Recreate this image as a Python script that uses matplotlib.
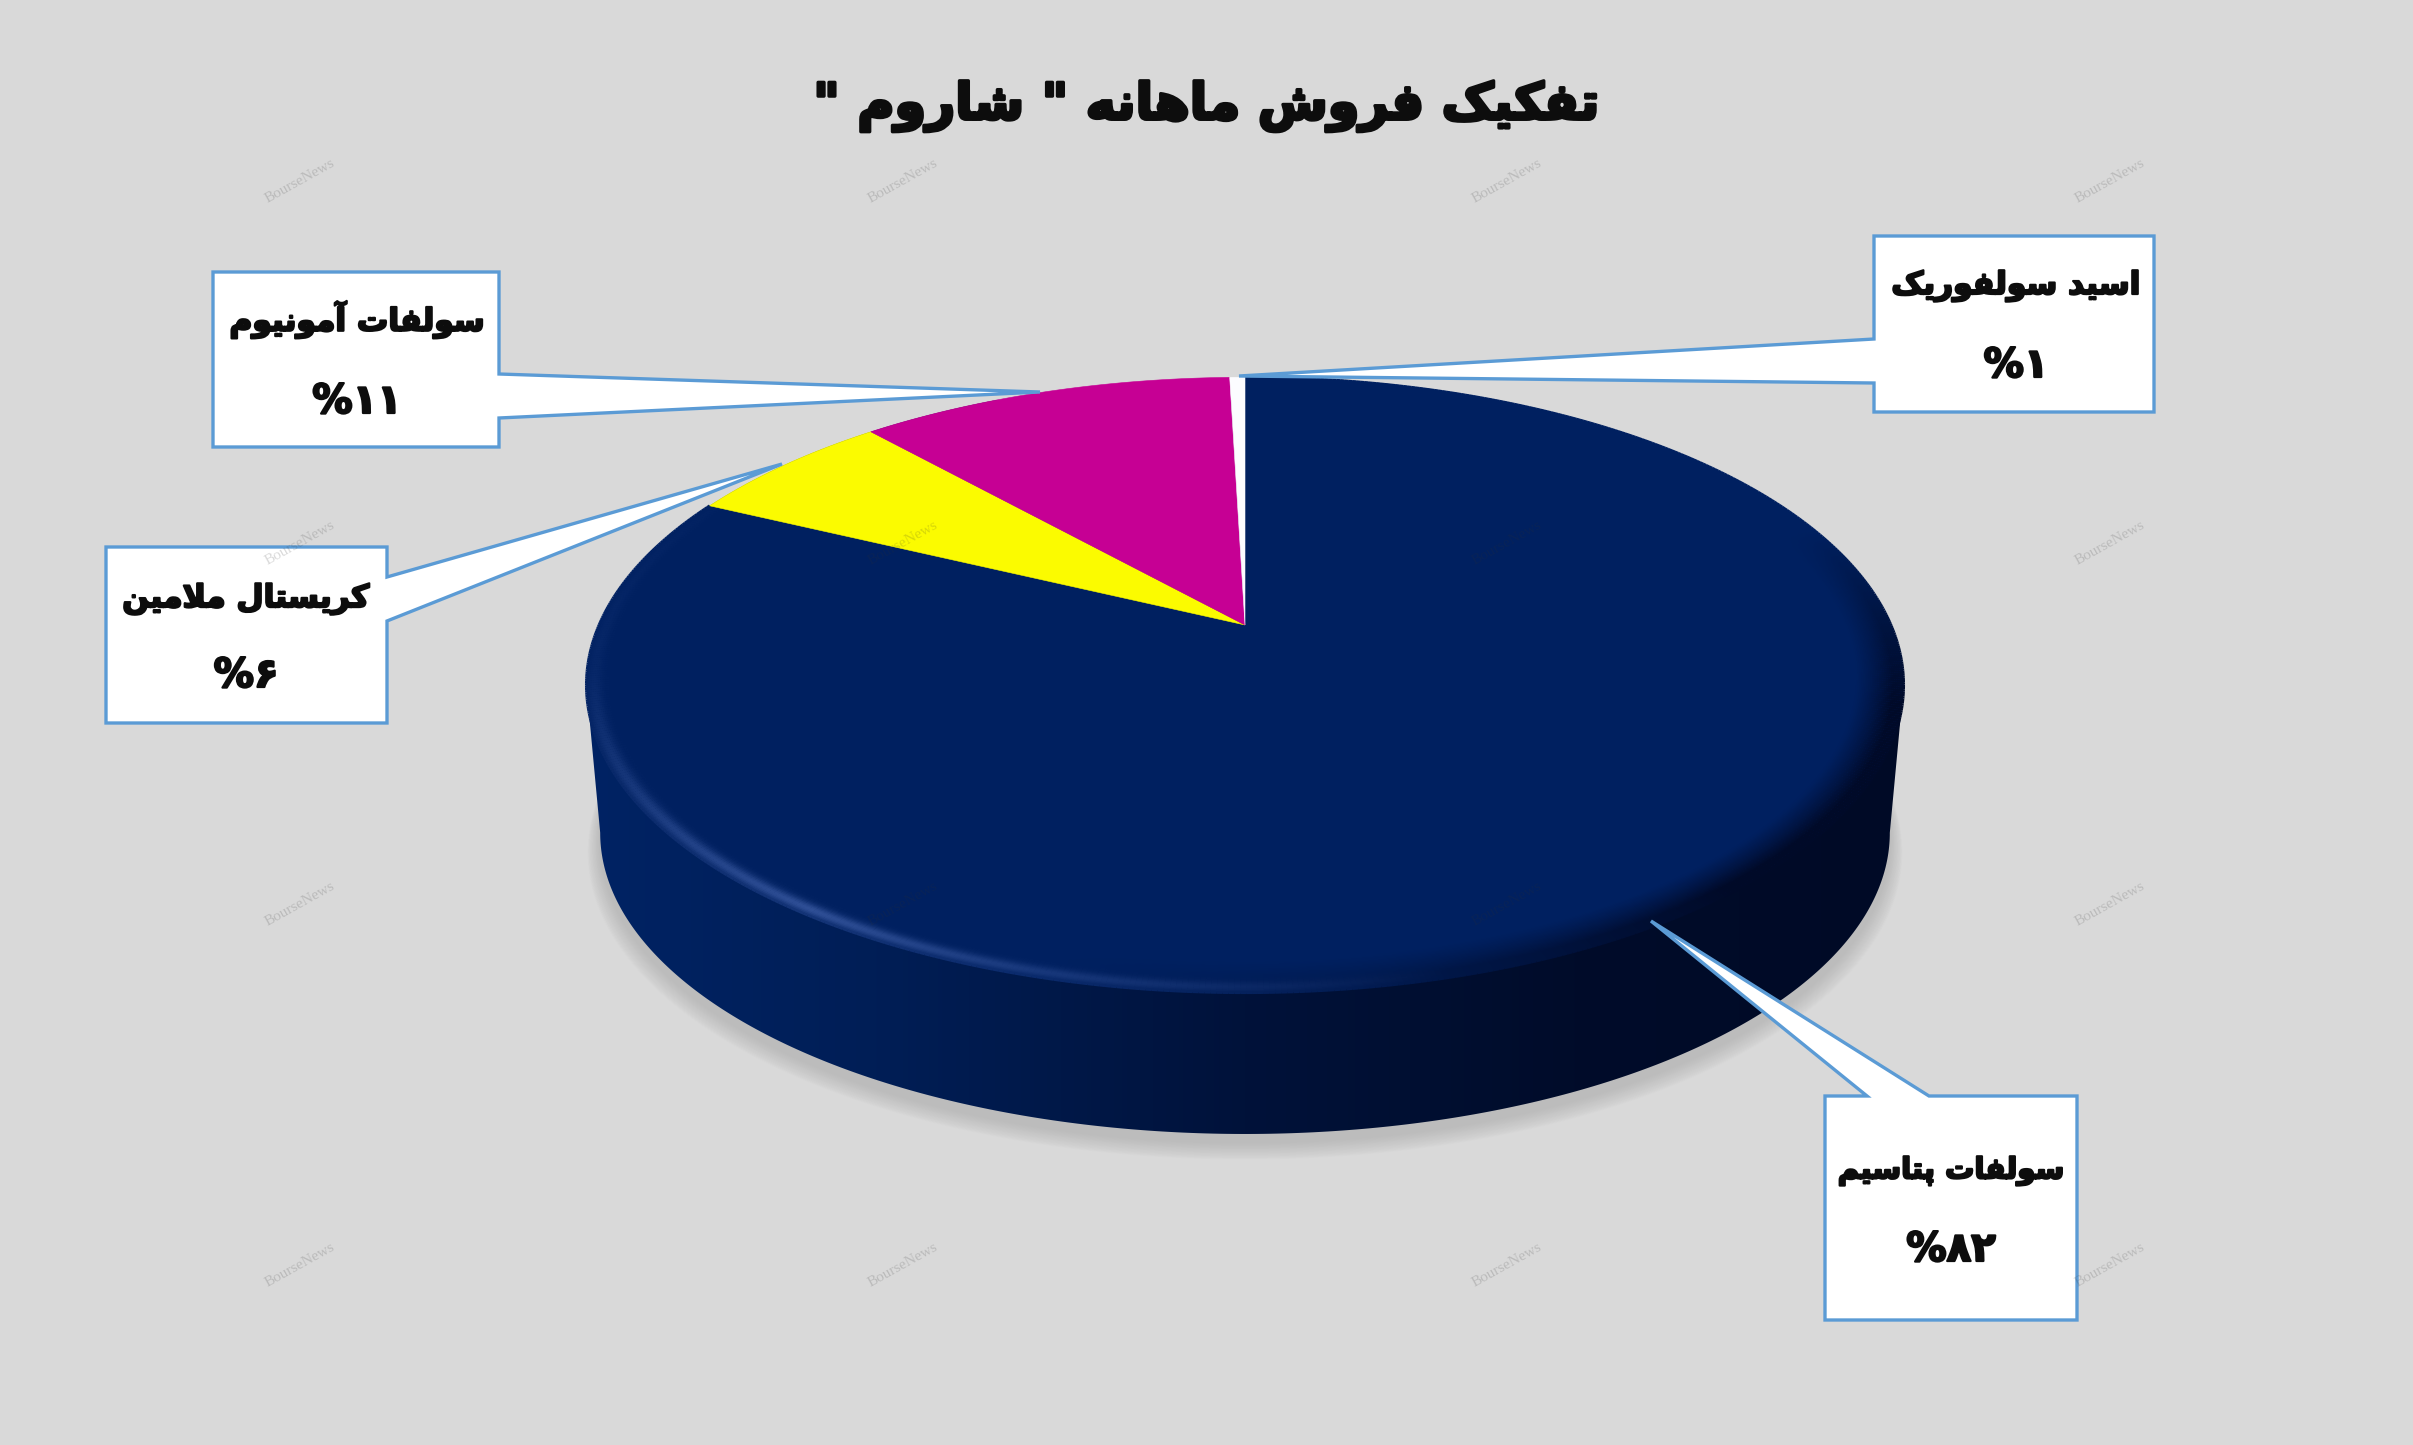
import numpy as np
import matplotlib
matplotlib.use("Agg")
import matplotlib.pyplot as plt
import matplotlib.patheffects as pe
from matplotlib.collections import LineCollection
from matplotlib.colors import to_rgb
from matplotlib.patches import Polygon

# values (the printed labels are rounded)
categories = ["سولفات پتاسیم", "کریستال ملامین", "سولفات آمونیوم", "اسید سولفوریک"]
shares = [82.2, 6.25, 11.1, 0.45]
percent_labels = ["%۸۲", "%۶", "%۱۱", "%۱"]
colors = ["#002060", "#fbfb00", "#c60094", "#fcfcff"]
title = 'تفکیک فروش ماهانه " شاروم "'

BG = "#d9d9d9"
EDGE = "#5b9bd5"
INK = "#0d0d0d"

# isolated, final, initial, medial
FORMS = {
    "ا": (0xFE8D, 0xFE8E), "آ": (0xFE81, 0xFE82), "د": (0xFEA9, 0xFEAA),
    "ر": (0xFEAD, 0xFEAE), "و": (0xFEED, 0xFEEE),
    "ت": (0xFE95, 0xFE96, 0xFE97, 0xFE98), "ف": (0xFED1, 0xFED2, 0xFED3, 0xFED4),
    "ک": (0xFB8E, 0xFB8F, 0xFB90, 0xFB91), "ی": (0xFBFC, 0xFBFD, 0xFBFE, 0xFBFF),
    "ش": (0xFEB5, 0xFEB6, 0xFEB7, 0xFEB8), "م": (0xFEE1, 0xFEE2, 0xFEE3, 0xFEE4),
    "ه": (0xFEE9, 0xFEEA, 0xFEEB, 0xFEEC), "ن": (0xFEE5, 0xFEE6, 0xFEE7, 0xFEE8),
    "س": (0xFEB1, 0xFEB2, 0xFEB3, 0xFEB4), "ل": (0xFEDD, 0xFEDE, 0xFEDF, 0xFEE0),
    "پ": (0xFB56, 0xFB57, 0xFB58, 0xFB59),
    "ﻻ": (0xFEFB, 0xFEFC),
}


def shape(text):
    # matplotlib has no arabic shaping, so pick the forms by hand and reverse
    text = text.replace("لا", "ﻻ")
    out = []
    for i, ch in enumerate(text):
        if ch not in FORMS:
            out.append(ch)
            continue
        prev = text[i - 1] if i > 0 else " "
        nxt = text[i + 1] if i + 1 < len(text) else " "
        joins_prev = prev in FORMS and len(FORMS[prev]) == 4
        joins_next = nxt in FORMS and len(FORMS[ch]) == 4
        if joins_prev and joins_next:
            k = 3
        elif joins_next:
            k = 2
        elif joins_prev:
            k = 1
        else:
            k = 0
        out.append(chr(FORMS[ch][k]))
    return "".join(out)[::-1]


# perspective of the disc, in image pixels
CX, CY, A, B, P = 1245, 625, 646, 296, 0.195
DROP, SHRINK = 149, 0.979


def project(deg, r=1.0, scale=1.0, dy=0.0):
    t = np.radians(deg)
    u, v = r * np.sin(t), r * np.cos(t)
    w = 1 + P * v
    return np.column_stack((CX + scale * A * u / w, CY + dy - scale * B * v / w))


def wedge(a0, a1):
    t = np.linspace(a0, a1, 200)
    return np.vstack(([[CX, CY]], project(t)))


def blend(c0, c1, a):
    return np.asarray(c0) * (1 - a)[..., None] + np.asarray(c1) * a[..., None]


fig = plt.figure(figsize=(24.13, 14.45), dpi=100, facecolor=BG)
ax = fig.add_axes([0, 0, 1, 1])
ax.set_xlim(0, 2413)
ax.set_ylim(1445, 0)
ax.axis("off")

# soft shadow under the disc
all_deg = np.linspace(0, 360, 400)
n_shadow = 24
for i in range(n_shadow):
    f = i / (n_shadow - 1)
    c = blend(to_rgb(BG), to_rgb("#bcbcbc"), np.array(f**0.8))
    pts = project(all_deg, scale=SHRINK * (1.0 + 0.02 * (1 - f)), dy=DROP + 9 + 10 * (1 - f))
    ax.add_patch(Polygon(pts, closed=True, fc=c, ec="none", zorder=1))

# side wall with horizontal gradient
left_ext = 180 + np.degrees(np.arccos(P))
right_ext = 180 - np.degrees(np.arccos(P))
front = project(np.linspace(left_ext, right_ext, 300), scale=SHRINK, dy=DROP)
back = project(np.linspace(right_ext, left_ext - 360, 400))
side = Polygon(np.vstack((front, back)), closed=True, transform=ax.transData, fc="none", ec="none")
ax.add_patch(side)
stops = np.array([0, 0.22, 0.5, 0.75, 1.0])
grad = np.column_stack([
    np.interp(np.linspace(0, 1, 512), stops, channel)
    for channel in ([0, 0, 0, 0, 0], [35, 30, 18, 12, 10], [100, 86, 58, 42, 38])
]) / 255
img = ax.imshow(grad[None, :, :], extent=(586, 1904, 1200, 400), aspect="auto", zorder=2)
img.set_clip_path(side)
ax.set_xlim(0, 2413)
ax.set_ylim(1445, 0)

# top face
edges = np.concatenate(([0], np.cumsum(shares))) * 3.6
ax.add_patch(Polygon(wedge(edges[0], edges[1]), closed=True, fc=colors[0], ec="none", zorder=3))

# bevel on the rim of the big slice
rim_deg = np.linspace(0, edges[1], 700)
mid = (rim_deg[:-1] + rim_deg[1:]) / 2
base = to_rgb(colors[0])
dark = to_rgb("#000a28")
light = to_rgb("#2f4f96")
dark_amp = np.interp(mid, [70, 105, 140, 172, 195], [0, 1, 1, 0.3, 0])
light_amp = np.interp(mid, [165, 195, 215, 240, 262, 295], [0, 0.5, 1, 0.5, 0.14, 0.04])
for r in np.linspace(0.93, 1.0, 28):
    seg_pts = project(rim_deg, r=r)
    segs = np.stack((seg_pts[:-1], seg_pts[1:]), axis=1)
    d = np.clip((r - 0.93) / 0.055, 0, 1) ** 1.2
    h = np.exp(-(((r - 0.989) / 0.012) ** 2))
    col = blend(base, dark, dark_amp * d)
    col = blend(col, light, light_amp * h)
    ax.add_collection(LineCollection(segs, colors=col, linewidths=2.0, zorder=4, capstyle="butt"))

for a0, a1, col in zip(edges[1:-1], edges[2:], colors[1:]):
    ax.add_patch(Polygon(wedge(a0, a1), closed=True, fc=col, ec=col, lw=0.4, zorder=5))

# callouts: box corners and pointer (two base points, tip)
callouts = [
    dict(box=(1825, 1096, 2077, 1320), side="top", base=(1867, 1929), tip=(1651, 921)),
    dict(box=(106, 547, 387, 723), side="right", base=(577, 621), tip=(782, 464)),
    dict(box=(213, 272, 499, 447), side="right", base=(374, 418), tip=(1040, 392)),
    dict(box=(1874, 236, 2154, 412), side="left", base=(339, 383), tip=(1239, 376)),
]
text_xy = [((1951, 1171), (1951, 1250)), ((246, 599), (246, 676)),
           ((357, 320), (357, 402)), ((2016, 286), (2016, 366))]
name_sizes = [21, 22.5, 22.5, 22.5]

for c in callouts:
    x0, y0, x1, y1 = c["box"]
    b0, b1 = c["base"]
    if c["side"] == "top":
        pts = [(x0, y0), (b0, y0), c["tip"], (b1, y0), (x1, y0), (x1, y1), (x0, y1)]
    elif c["side"] == "right":
        pts = [(x0, y0), (x1, y0), (x1, b0), c["tip"], (x1, b1), (x1, y1), (x0, y1)]
    else:
        pts = [(x0, y0), (x1, y0), (x1, y1), (x0, y1), (x0, b1), c["tip"], (x0, b0)]
    ax.add_patch(Polygon(pts, closed=True, fc="white", ec=EDGE, lw=2.4, joinstyle="miter", zorder=6))

heavy = [pe.withStroke(linewidth=1.6, foreground=INK)]
for name, pct, (p0, p1), fs in zip(categories, percent_labels, text_xy, name_sizes):
    ax.text(*p0, shape(name), ha="center", va="center", color=INK, fontsize=fs,
            fontweight="bold", family="DejaVu Sans", zorder=7, path_effects=heavy)
    ax.text(*p1, pct, ha="center", va="center", color=INK, fontsize=29,
            fontweight="bold", family="DejaVu Sans", zorder=7, path_effects=heavy)

ax.text(1207, 106, shape(title), ha="center", va="center", color=INK, fontsize=36.5,
        fontweight="bold", family="DejaVu Sans", zorder=7,
        path_effects=[pe.withStroke(linewidth=2.4, foreground=INK)])

# watermark grid
for wy in (181, 543, 904, 1265):
    for wx in (300, 903, 1507, 2110):
        ax.text(wx, wy, "BourseNews", rotation=29, ha="center", va="center", fontsize=11,
                family="Liberation Serif", color="#303030", alpha=0.18, zorder=8)

fig.savefig("out.png", dpi=100, facecolor=BG)
